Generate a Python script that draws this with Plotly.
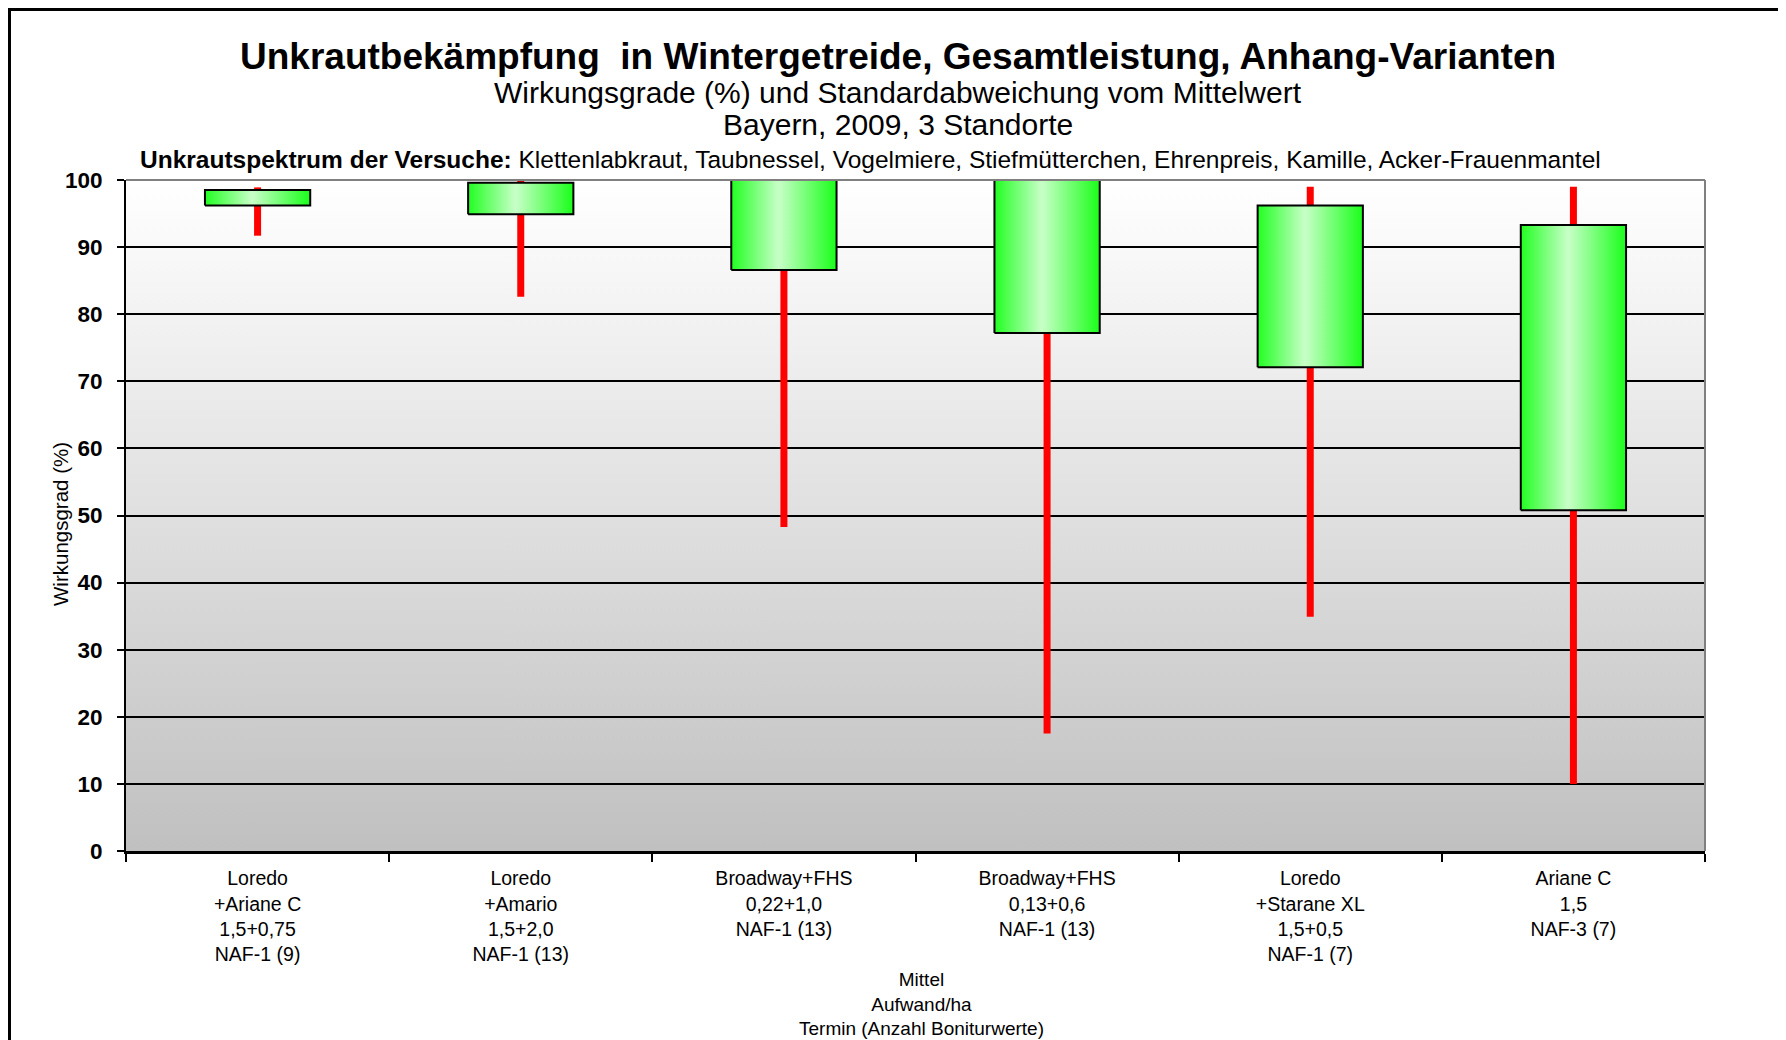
import base64
import plotly.graph_objects as go

# x-axis groups (Mittel / Aufwand/ha / Termin (Anzahl Boniturwerte))
categories = [
    "Loredo<br>+Ariane C<br>1,5+0,75<br>NAF-1 (9)",
    "Loredo<br>+Amario<br>1,5+2,0<br>NAF-1 (13)",
    "Broadway+FHS<br>0,22+1,0<br>NAF-1 (13)",
    "Broadway+FHS<br>0,13+0,6<br>NAF-1 (13)",
    "Loredo<br>+Starane XL<br>1,5+0,5<br>NAF-1 (7)",
    "Ariane C<br>1,5<br>NAF-3 (7)",
]
# green boxes (Mittelwert +/- Standardabweichung)
box_low = [96.2, 94.9, 86.6, 77.2, 72.1, 50.8]
box_high = [98.5, 99.6, 103.0, 106.0, 96.2, 93.3]
# red lines
line_low = [91.7, 82.6, 48.3, 17.5, 34.9, 10.0]
line_high = [98.9, 100.0, 100.0, 100.0, 99.0, 99.0]

FONT = "Liberation Sans, Arial, sans-serif"

# the page body has an 8px margin, so the figure starts at (8, 8)
OFF = 8
FIG_W, FIG_H = 1786 - OFF, 1040 - OFF
# plot area in screen pixels
L, R, T, B = 126, 1705, 180, 851


def px(x):
    return (x - L) / (R - L)


def py(y):
    return (B - y) / (B - T)


fig = go.Figure()

# red lines, one trace with gaps
xs, ys = [], []
for i in range(len(categories)):
    xs += [i, i, None]
    ys += [line_low[i], line_high[i], None]
fig.add_trace(go.Scatter(x=xs, y=ys, mode="lines",
                         line=dict(color="#ff0000", width=7),
                         hoverinfo="skip", showlegend=False))

# green boxes with horizontal gradient
hw = 0.2
for i in range(len(categories)):
    fig.add_trace(go.Scatter(
        x=[i - hw, i + hw, i + hw, i - hw, i - hw],
        y=[box_low[i], box_low[i], box_high[i], box_high[i], box_low[i]],
        mode="lines", fill="toself",
        fillgradient=dict(type="horizontal",
                          colorscale=[[0, "#22ff22"], [0.45, "#c8ffc8"], [1, "#1aff1a"]]),
        line=dict(color="black", width=2),
        hoverinfo="skip", showlegend=False))

# plot background gradient (white -> grey)
svg = ('<svg xmlns="http://www.w3.org/2000/svg" width="10" height="100" preserveAspectRatio="none">'
       '<defs><linearGradient id="g" x1="0" y1="0" x2="0" y2="1">'
       '<stop offset="0" stop-color="#ffffff"/><stop offset="1" stop-color="#c0c0c0"/>'
       '</linearGradient></defs><rect width="10" height="100" fill="url(#g)"/></svg>')
bg_src = "data:image/svg+xml;base64," + base64.b64encode(svg.encode()).decode()

fig.update_layout(
    width=FIG_W, height=FIG_H,
    margin=dict(l=L - OFF, r=FIG_W - (R - OFF), t=T - OFF, b=FIG_H - (B - OFF)),
    paper_bgcolor="white", plot_bgcolor="rgba(0,0,0,0)",
    font=dict(family=FONT, color="black"),
    showlegend=False,
    images=[dict(source=bg_src, xref="x domain", yref="y domain", x=0, y=1,
                 sizex=1, sizey=1, sizing="stretch", layer="below",
                 xanchor="left", yanchor="top")],
    xaxis=dict(range=[-0.5, len(categories) - 0.5], tickmode="array",
               tickvals=list(range(len(categories))), ticktext=categories,
               ticks="", showgrid=False, zeroline=False,
               showline=True, linecolor="black", linewidth=3,
               tickfont=dict(size=19.5, family=FONT), ticklabelstandoff=8,
               minor=dict(tickmode="array",
                          tickvals=[i - 0.5 for i in range(len(categories) + 1)],
                          ticks="outside", ticklen=8, tickwidth=2, tickcolor="black",
                          showgrid=False)),
    yaxis=dict(range=[0, 100], tickmode="linear", tick0=0, dtick=10,
               ticks="outside", ticklen=7, tickwidth=2, tickcolor="black",
               showline=True, linecolor="black", linewidth=2,
               showgrid=True, gridcolor="black", gridwidth=2, zeroline=False,
               tickfont=dict(size=22.5, family=FONT, weight="bold"),
               ticklabelstandoff=10),
    shapes=[
        # grey frame top / right of the plot area
        dict(type="line", xref="x domain", yref="y domain", x0=0, x1=1, y0=1, y1=1,
             line=dict(color="#808080", width=2), layer="above"),
        dict(type="line", xref="x domain", yref="y domain", x0=1, x1=1, y0=0, y1=1,
             line=dict(color="#808080", width=2), layer="above"),
        # outer chart border (top / left)
        dict(type="line", xref="paper", yref="paper", x0=px(9), x1=px(1800),
             y0=py(9.5), y1=py(9.5), line=dict(color="black", width=3)),
        dict(type="line", xref="paper", yref="paper", x0=px(9.5), x1=px(9.5),
             y0=py(8), y1=py(1050), line=dict(color="black", width=3)),
    ],
)

annotations = [
    dict(text="<b>Unkrautbekämpfung  in Wintergetreide, Gesamtleistung, Anhang-Varianten</b>",
         x=px(898), y=py(56), font=dict(size=37)),
    dict(text="Wirkungsgrade (%) und Standardabweichung vom Mittelwert",
         x=px(898), y=py(93), font=dict(size=30)),
    dict(text="Bayern, 2009, 3 Standorte",
         x=px(898), y=py(124), font=dict(size=30)),
    dict(text="<b>Unkrautspektrum der Versuche:</b> Klettenlabkraut, Taubnessel, Vogelmiere, "
              "Stiefmütterchen, Ehrenpreis, Kamille, Acker-Frauenmantel",
         x=px(870), y=py(160), font=dict(size=24.5)),
    dict(text="Wirkungsgrad (%)", textangle=-90,
         x=px(60), y=py(524), font=dict(size=20.5)),
    dict(text="Mittel<br>Aufwand/ha<br>Termin (Anzahl Boniturwerte)",
         x=px(921), y=py(1004), font=dict(size=19)),
]
for a in annotations:
    a.update(xref="paper", yref="paper", xanchor="center", yanchor="middle",
             showarrow=False)
    a["font"]["family"] = FONT
    a["font"]["color"] = "black"
fig.update_layout(annotations=annotations)

fig.write_html("out.html")
